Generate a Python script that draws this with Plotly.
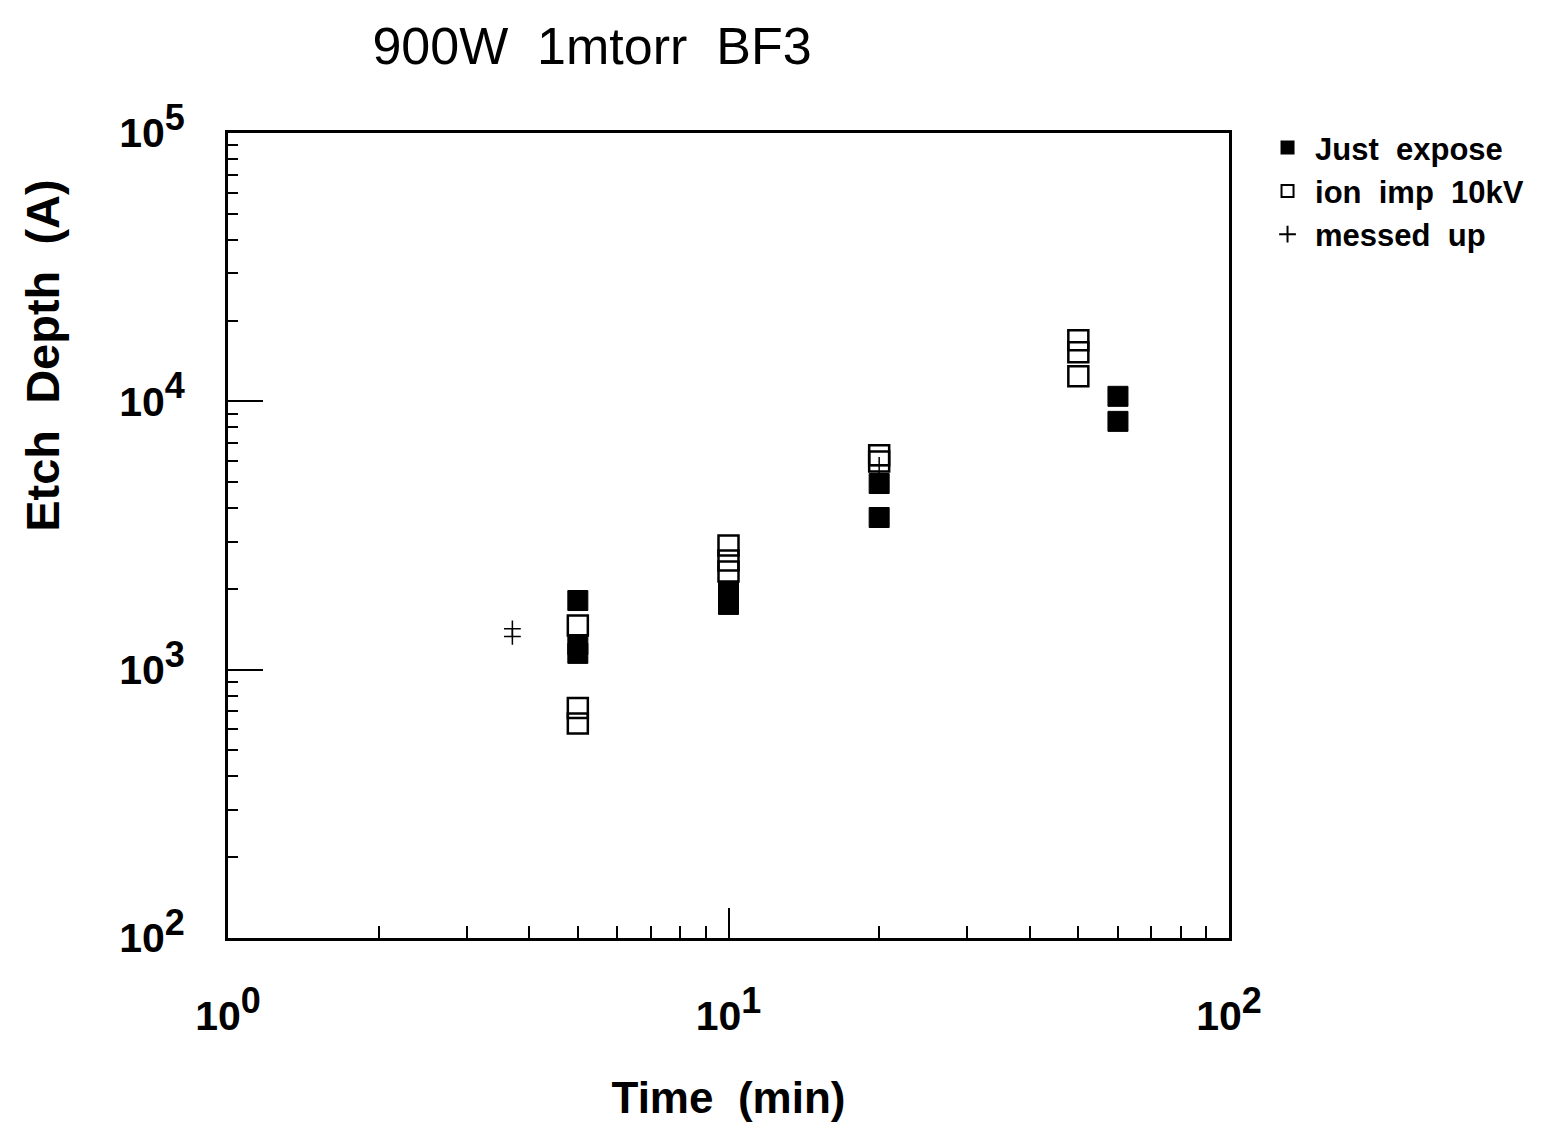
import plotly.graph_objects as go

# ---- data ----
time_expose = [5, 5, 5, 10, 10, 20, 20, 60, 60]
depth_expose = [1810, 1240, 1150, 1940, 1750, 4940, 3690, 10440, 8420]

time_ionimp = [5, 5, 5, 10, 10, 10, 20, 20, 50, 50, 50]
depth_ionimp = [1460, 720, 630, 2900, 2550, 2320, 6290, 5970, 16890, 15240, 12400]

time_messed = [3.7, 3.7, 20]
depth_messed = [1420, 1330, 5770]

x_major = [1, 10, 100]
x_major_text = ["10<sup><span style='font-size:36px'>0</span></sup>",
                "10<sup><span style='font-size:36px'>1</span></sup>",
                "10<sup><span style='font-size:36px'>2</span></sup>"]
x_minor = [2, 3, 4, 5, 6, 7, 8, 9, 20, 30, 40, 50, 60, 70, 80, 90]

y_major = [100, 1000, 10000, 100000]
y_major_text = ["10<sup><span style='font-size:36px'>2</span></sup>",
                "10<sup><span style='font-size:36px'>3</span></sup>",
                "10<sup><span style='font-size:36px'>4</span></sup>",
                "10<sup><span style='font-size:36px'>5</span></sup>"]
y_minor = [200, 300, 400, 500, 600, 700, 800, 900,
           2000, 3000, 4000, 5000, 6000, 7000, 8000, 9000,
           20000, 30000, 40000, 50000, 60000, 70000, 80000, 90000]

FONT = "Liberation Sans, Arial, Helvetica, sans-serif"

fig = go.Figure()
fig.add_trace(go.Scatter(
    x=time_ionimp, y=depth_ionimp, mode="markers", name="ion  imp  10kV",
    legendrank=2, legendgroup="b",
    marker=dict(symbol="square-open", size=20, color="black", line=dict(width=2.5, color="black")),
))
fig.add_trace(go.Scatter(
    x=time_expose, y=depth_expose, mode="markers", name="Just  expose",
    legendrank=1, legendgroup="a",
    marker=dict(symbol="square", size=20, color="black", line=dict(width=1, color="black")),
))
fig.add_trace(go.Scatter(
    x=time_messed, y=depth_messed, mode="markers", name="messed  up",
    legendrank=3, legendgroup="c",
    marker=dict(symbol="cross-thin", size=12, color="black", line=dict(width=1.5, color="black")),
))

axis_common = dict(
    type="log", showgrid=False, zeroline=False, automargin=False,
    showline=True, linecolor="black", linewidth=3, mirror=True,
    ticks="inside", tickcolor="black", tickwidth=2,
    tickfont=dict(family=FONT, size=41, color="black", weight="bold"),
)

fig.update_xaxes(
    **axis_common, range=[0, 2],
    tickmode="array", tickvals=x_major, ticktext=x_major_text, ticklen=30,
    ticklabelstandoff=40,
    minor=dict(tickmode="array", tickvals=x_minor, ticks="inside", ticklen=12,
               tickwidth=2, tickcolor="black", showgrid=False),
    title=dict(text="Time  (min)", font=dict(family=FONT, size=44, color="black", weight="bold"),
               standoff=44),
)
fig.update_yaxes(
    **axis_common, range=[2, 5],
    tickmode="array", tickvals=y_major, ticktext=y_major_text, ticklen=35,
    ticklabelstandoff=32,
    minor=dict(tickmode="array", tickvals=y_minor, ticks="inside", ticklen=10,
               tickwidth=1.5, tickcolor="black", showgrid=False),
)

fig.update_layout(
    width=1543, height=1122,
    margin=dict(l=220, r=322, t=125, b=192, autoexpand=False),
    paper_bgcolor="white", plot_bgcolor="white",
    title=dict(text="900W  1mtorr  BF3", x=584 / 1543, xanchor="center",
               y=1 - 38 / 1122, yanchor="middle", xref="container", yref="container",
               font=dict(family=FONT, size=52, color="black")),
    legend=dict(x=1.031, y=1.015, xanchor="left", yanchor="top",
                font=dict(family=FONT, size=31, color="black", weight="bold"),
                itemsizing="constant", itemwidth=45, tracegroupgap=6,
                bgcolor="rgba(0,0,0,0)", traceorder="normal"),
    showlegend=True,
    annotations=[dict(
        text="Etch  Depth  (A)", textangle=-90, xref="paper", yref="paper",
        x=-0.186, y=(1122 - 348 - 192) / 805, xanchor="center", yanchor="middle",
        showarrow=False, font=dict(family=FONT, size=47, color="black", weight="bold"),
    )],
)

fig.write_html("out.html")
